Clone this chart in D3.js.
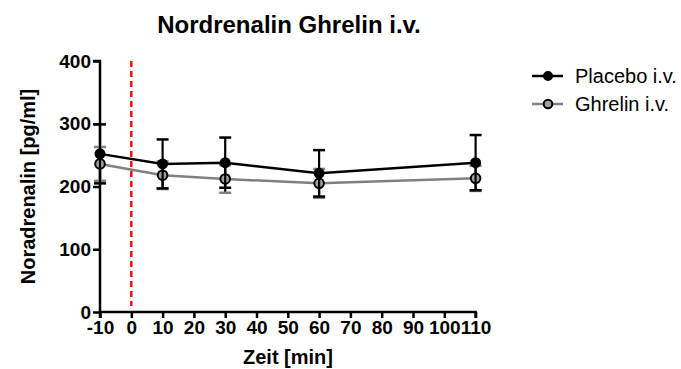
<!DOCTYPE html>
<html>
<head>
<meta charset="utf-8">
<script src="https://cdn.jsdelivr.net/npm/d3@7"></script>
<style>
  html, body { margin: 0; padding: 0; background: #fff; }
  svg { display: block; font-family: Arial, "Liberation Sans", sans-serif; }
</style>
</head>
<body>
<svg id="chart" width="681" height="369"></svg>
<script>
// Time points (min) and noradrenaline means / SEM (pg/ml)
const timePoints = [-10, 10, 30, 60, 110];
const placeboMean = [252, 236, 238, 221, 238];
const placeboErr  = [47, 39, 40, 37, 44];
const ghrelinMean = [236, 218, 212, 205, 213];
const ghrelinErr  = [27, 22, 22, 23, 20];
const xTicks = [-10, 0, 10, 20, 30, 40, 50, 60, 70, 80, 90, 100, 110];
const yTicks = [0, 100, 200, 300, 400];
const seriesNames = ["Placebo i.v.", "Ghrelin i.v."];

const FONT = "Arial, 'Liberation Sans', sans-serif";
const svg = d3.select("#chart");
const x = d3.scaleLinear().domain([-10, 110]).range([100, 475.6]);
const y = d3.scaleLinear().domain([0, 400]).range([312, 61]);

// Title
svg.append("text").attr("x", 289).attr("y", 33).attr("text-anchor", "middle")
  .attr("font-size", 24).attr("font-weight", "bold").text("Nordrenalin Ghrelin i.v.");

// Injection marker at t = 0
svg.append("line").attr("x1", x(0)).attr("x2", x(0)).attr("y1", y(400)).attr("y2", 306)
  .attr("stroke", "#ff0000").attr("stroke-width", 2.4).attr("stroke-dasharray", "6,4");

// Axes
const xAxis = svg.append("g").attr("transform", `translate(0,${y(0)})`)
  .call(d3.axisBottom(x).tickValues(xTicks).tickSize(6).tickPadding(3)
    .tickFormat(d => String(d)));
const yAxis = svg.append("g").attr("transform", `translate(${x(-10)},0)`)
  .call(d3.axisLeft(y).tickValues(yTicks).tickSize(7).tickPadding(2));
[xAxis, yAxis].forEach(g => {
  g.attr("font-family", FONT).attr("font-size", 19);
  g.select(".domain").attr("stroke", "#000").attr("stroke-width", 2.5);
  g.selectAll(".tick line").attr("stroke", "#000").attr("stroke-width", 2.5);
  g.selectAll(".tick text").attr("fill", "#000").attr("font-weight", "bold");
});
xAxis.select(".domain").attr("d", `M${x(-10)},6V0H${x(110)}V6`);
yAxis.select(".domain").attr("d", `M-7,${y(400)}H0V${y(0)}`);

// Axis titles
svg.append("text").attr("x", 288).attr("y", 364).attr("text-anchor", "middle")
  .attr("font-size", 20).attr("font-weight", "bold").text("Zeit [min]");
svg.append("text").attr("transform", `translate(35,${(y(0) + y(400)) / 2}) rotate(-90)`)
  .attr("text-anchor", "middle").attr("font-size", 20).attr("font-weight", "bold")
  .text("Noradrenalin [pg/ml]");

const series = [
  { mean: ghrelinMean, err: ghrelinErr, line: "#808080", fill: "#a0a0a0", r: 4.8, cap: "#808080", bar: "#000" },
  { mean: placeboMean, err: placeboErr, line: "#000", fill: "#000", r: 4.5, cap: "#000", bar: "#000" }
];

function drawSeries(s) {
  const g = svg.append("g");
  const pts = timePoints.map((t, i) => ({ t, m: s.mean[i], e: s.err[i] }));
  // error bars
  pts.forEach(p => {
    g.append("line").attr("x1", x(p.t)).attr("x2", x(p.t)).attr("y1", y(p.m - p.e)).attr("y2", y(p.m + p.e))
      .attr("stroke", s.bar).attr("stroke-width", 2.2);
    [p.m - p.e, p.m + p.e].forEach(v => {
      g.append("line").attr("x1", x(p.t) - 6).attr("x2", x(p.t) + 6).attr("y1", y(v)).attr("y2", y(v))
        .attr("stroke", s.cap).attr("stroke-width", 2.5);
    });
  });
  g.append("path").datum(pts)
    .attr("d", d3.line().x(d => x(d.t)).y(d => y(d.m)))
    .attr("fill", "none").attr("stroke", s.line).attr("stroke-width", 2.5);
  g.selectAll("circle").data(pts).join("circle")
    .attr("cx", d => x(d.t)).attr("cy", d => y(d.m)).attr("r", s.r)
    .attr("fill", s.fill).attr("stroke", "#000").attr("stroke-width", 2);
}
series.forEach(drawSeries);

// Legend
const legend = [
  { name: seriesNames[0], line: "#000", fill: "#000", r: 4, y: 76 },
  { name: seriesNames[1], line: "#808080", fill: "#a0a0a0", r: 4.3, y: 104 }
];
legend.forEach(l => {
  svg.append("line").attr("x1", 532).attr("x2", 563).attr("y1", l.y).attr("y2", l.y)
    .attr("stroke", l.line).attr("stroke-width", 2.5);
  svg.append("circle").attr("cx", 548).attr("cy", l.y).attr("r", l.r)
    .attr("fill", l.fill).attr("stroke", "#000").attr("stroke-width", 2);
  svg.append("text").attr("x", 575).attr("y", l.y + 7).attr("font-size", 20).text(l.name);
});
</script>
</body>
</html>
